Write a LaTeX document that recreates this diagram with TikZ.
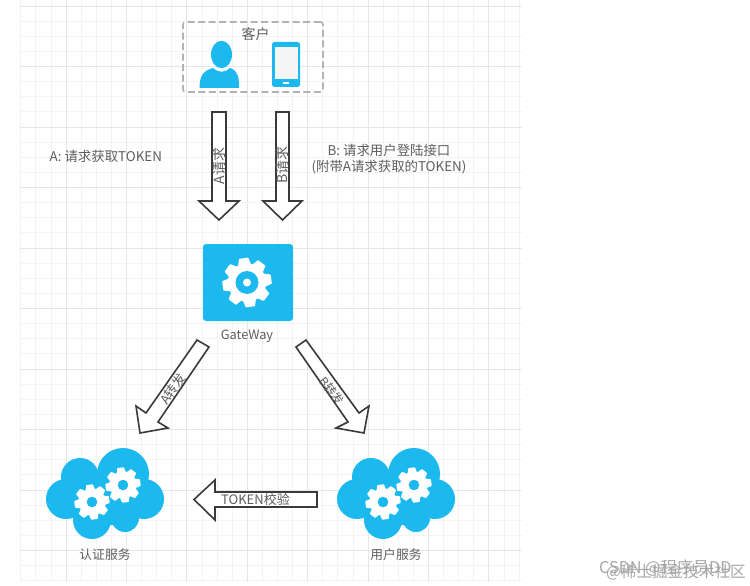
\documentclass[tikz,border=0pt]{standalone}
\usepackage{fontspec}
\setmainfont{Noto Sans CJK SC}
\definecolor{cyanb}{HTML}{1CB9EF}
\definecolor{txt}{HTML}{5E5E5E}
\definecolor{gridmin}{HTML}{F3F3F3}
\definecolor{gridmaj}{HTML}{E6E6E6}
\definecolor{edge}{HTML}{3A3A3A}
\tikzset{
  blockarrow/.style={draw=edge,line width=1.6pt,fill=white,line join=miter},
  lbl/.style={text=txt,font=\fontsize{12.8}{16}\selectfont,inner sep=0pt,align=center},
  sidelbl/.style={lbl,font=\fontsize{13.4}{16}\selectfont},
  onarrow/.style={text=txt,font=\fontsize{13}{14}\selectfont,inner sep=0pt},
  marktext/.style={text=gray!70,font=\fontsize{15.6}{17}\selectfont,inner sep=0pt,anchor=west}
}
% gear: centre x, centre y, outer radius, tooth count, hole radius, hole colour
\newcommand{\gearshape}[6]{%
  \fill[white] (#1,#2) circle[radius={#3*0.78}];
  \foreach \a in {1,...,#4}{
    \fill[white,rotate around={\a*360/#4+8:(#1,#2)},rounded corners=0.6pt]
      ({#1-#3*0.27},{#2-#3*0.70}) -- ({#1-#3*0.19},{#2-#3}) -- ({#1+#3*0.19},{#2-#3}) -- ({#1+#3*0.27},{#2-#3*0.70}) -- cycle;
  }
  \fill[#6] (#1,#2) circle[radius=#5];
}
\newcommand{\cloudicon}[1]{%
  \begin{scope}[xshift=#1]
    \fill[cyanb] (123,474) circle[radius=26];
    \fill[cyanb] (80,477) circle[radius=19];
    \fill[cyanb] (66,499) circle[radius=20];
    \fill[cyanb] (92,520) circle[radius=19];
    \fill[cyanb] (125,518) circle[radius=14];
    \fill[cyanb] (144,499) circle[radius=20];
    \fill[cyanb] (70,485) -- (123,460) -- (147,485) -- (145,515) -- (125,525) -- (92,525) -- (65,515) -- cycle;
    \gearshape{123}{485}{17.5}{8}{5.3}{cyanb}
    \gearshape{92}{502}{17.5}{8}{5.3}{cyanb}
  \end{scope}
}
\begin{document}
\begin{tikzpicture}[x=1pt,y=-1pt]
\useasboundingbox (0,0) rectangle (750,586);
\fill[white] (0,0) rectangle (750,586);
% grid
\foreach \i in {0,...,38}{\draw[gridmin,line width=.8pt] (20,{6+\i*15.125}) -- (522,{6+\i*15.125});}
\foreach \i in {0,...,33}{\draw[gridmin,line width=.8pt] ({20.7+\i*15.1},0) -- ({20.7+\i*15.1},582);}
\foreach \i in {0,...,9}{\draw[gridmaj,line width=.8pt] (20,{6+\i*60.5}) -- (522,{6+\i*60.5});}
\foreach \i in {0,...,7}{\draw[gridmaj,line width=.8pt] ({66+\i*60.4},0) -- ({66+\i*60.4},582);}
% client group
\node[draw=gray!60,dash pattern=on 7pt off 3.5pt,line width=1.6pt,rounded corners=2.5pt,minimum width=140pt,minimum height=70pt,inner sep=0pt] (client) at (253,57) {};
\node[lbl,font=\fontsize{14}{15}\selectfont] (clientlabel) at (255.5,34) {客户};
% person icon
\fill[cyanb] (221.5,54.5) ellipse[x radius=10.5,y radius=13.7];
\fill[cyanb] (199.5,88) .. controls (199.5,75) and (204,70.5) .. (213,68) .. controls (218,73) and (225,73) .. (230,68) .. controls (238,70.5) and (239,77) .. (239,88) -- cycle;
% phone icon
\fill[cyanb,rounded corners=2.5pt] (272,42) rectangle (300,87);
\fill[white!96!black] (275,47) rectangle (298,79);
\fill[white] (283,82) rectangle (289,84);
% vertical arrows
\draw[blockarrow] (212,112) -- (226,112) -- (226,201) -- (239,201) -- (219,220) -- (199,201) -- (212,201) -- cycle;
\draw[blockarrow] (276,112) -- (289,112) -- (289,201) -- (302,201) -- (282.5,220) -- (263,201) -- (276,201) -- cycle;
\node[onarrow,rotate=90,font=\fontsize{14}{15}\selectfont] (areq) at (219,166) {A请求};
\node[onarrow,rotate=90,font=\fontsize{14}{15}\selectfont] (breq) at (282.5,165) {B请求};
% side labels
\node[sidelbl,anchor=west] (alabel) at (49.5,156) {A: 请求获取TOKEN};
\node[sidelbl,anchor=center] (blabel) at (389,159) {B: 请求用户登陆接口\\(附带A请求获取的TOKEN)};
% gateway
\fill[cyanb,rounded corners=3pt] (203,244) rectangle (293,321);
\gearshape{247}{282.5}{24.5}{8}{11.5}{cyanb}
\fill[white] (247,282.5) circle[radius=4];
\node[lbl] (gw) at (247,336) {GateWay};
% diagonal arrows
\draw[blockarrow] (197,340) -- (209,347) -- (158,422) -- (168,428) -- (140,433) -- (136,406) -- (146,413) -- cycle;
\draw[blockarrow] (306,340) -- (296,347) -- (348,422) -- (336,428) -- (364,433) -- (369,406) -- (359,413) -- cycle;
\node[onarrow,rotate=55] (afw) at (173,389) {A转发};
\node[onarrow,rotate=-53,font=\fontsize{12}{14}\selectfont] (bfw) at (332,391) {B转发};
% clouds
\cloudicon{0pt}
\node[lbl] (auth) at (105,555) {认证服务};
\cloudicon{291pt}
\node[lbl] (user) at (396,555) {用户服务};
% token arrow
\draw[blockarrow] (317,492) -- (317,507) -- (215,507) -- (215,520) -- (194,499.5) -- (215,480) -- (215,492) -- cycle;
\node[onarrow] (token) at (255.5,499.5) {TOKEN校验};
% watermark
\node[marktext,font=\fontsize{16.2}{17}\selectfont] (wm1) at (599,568.5) {CSDN @程序员DD};
\node[marktext] (wm2) at (606,572) {@稀土掘金技术社区};
\end{tikzpicture}
\end{document}
